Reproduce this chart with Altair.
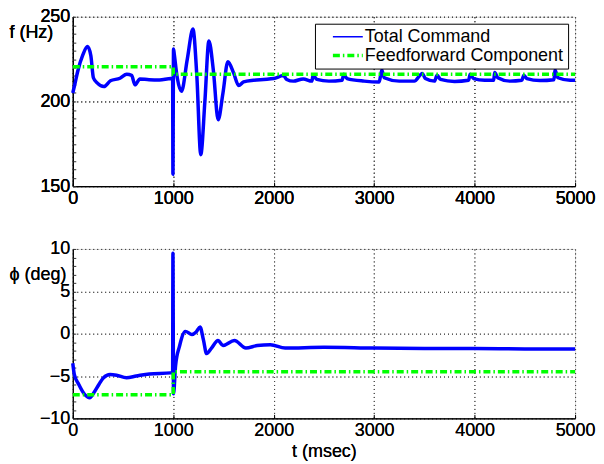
import altair as alt
import pandas as pd

# ---- data ----
t_f = [0, 20, 50, 100, 147, 180, 205, 245, 310, 375, 470, 537, 586, 619, 668, 760, 863, 977,
       994, 997, 1003, 1010, 1040, 1082, 1140, 1196, 1235, 1274, 1315, 1355, 1400, 1447, 1495,
       1544, 1600, 1651, 1700, 1800, 1900, 2000, 2098, 2130, 2196, 2294, 2380, 2392, 2430, 2550,
       2680, 2698, 2730, 2900, 3050, 3076, 3100, 3250, 3400, 3480, 3510, 3600, 3627, 3660, 3800,
       3940, 3956, 3990, 4100, 4190, 4200, 4230, 4350, 4470, 4490, 4520, 4650, 4790, 4800, 4830,
       4950, 5000]
f_total = [205, 210, 218, 227.5, 232.4, 227, 214, 210.8, 208.8, 212.2, 213.7, 216, 215.4, 209.8,
           213.3, 212.8, 212.7, 213.5,
           213, 157, 231, 228, 214, 206, 225, 242.7, 215, 168.6, 200, 235.7, 218, 189.2, 205,
           223.5, 217, 209.4, 211.5, 212.5, 213, 213.5, 215.3, 213, 212, 213.3, 212, 215.5, 213, 212,
           212.5, 216, 213.5, 212, 211.5, 218.6, 214, 212, 212, 216.5, 213.5, 212, 215.5, 213, 211.8,
           212.5, 216, 213.5, 212.5, 212.5, 217.1, 214, 212, 212.5, 215.5, 213.5, 212.3, 212.8, 218.5, 214,
           212.5, 212.5]

t_phi = [0, 15, 60, 120, 169, 208, 260, 306, 371, 436, 534, 632, 762, 974, 994, 997, 1003, 1023,
         1062, 1121, 1186, 1228, 1267, 1300, 1332, 1381, 1446, 1495, 1609, 1723, 1837, 1967, 2114,
         2500, 3000, 3500, 4000, 4500, 5000]
phi_total = [-3.5, -4.8, -6.0, -7.2, -7.57, -7.0, -6.0, -5.2, -4.82, -4.9, -5.2, -5.0, -4.75, -4.63,
             -4.6, 9.5, -7.1, -3.8, -1.5, 0.27, -0.1, 0.2, 0.78, -0.7, -2.35, -1.7, -0.82, -1.4, -0.82,
             -1.7, -1.4, -1.3, -1.7, -1.6, -1.7, -1.75, -1.75, -1.8, -1.8]

t_ff = [0, 1000, 1000, 5000]
f_ff = [220.5, 220.5, 216, 216]
phi_ff = [-7.2, -7.2, -4.5, -4.5]

series = ["Total Command", "Feedforward Component"]
x_ticks = [0, 1000, 2000, 3000, 4000, 5000]
f_ticks = [150, 200, 250]
phi_ticks = [-10, -5, 0, 5, 10]
f_minor = list(range(150, 251, 5))
phi_minor = list(range(-10, 11, 1))

FONT = "Liberation Sans"
FS = 18
BLUE = "#0000ff"
GREEN = "#00ff00"
DASHDOT = [7, 3, 1.5, 3]
W, H = 504, 170

top_tot = pd.DataFrame({"t": t_f, "v": f_total, "s": series[0], "i": range(len(t_f))})
top_ff = pd.DataFrame({"t": t_ff, "v": f_ff, "s": series[1], "i": range(len(t_ff))})
bot_tot = pd.DataFrame({"t": t_phi, "v": phi_total, "s": series[0], "i": range(len(t_phi))})
bot_ff = pd.DataFrame({"t": t_ff, "v": phi_ff, "s": series[1], "i": range(len(t_ff))})

grid_kw = dict(grid=True, gridDash=[1, 3], gridColor="#444", gridWidth=1,
               domainColor="black", domainWidth=1, ticks=False,
               labelFont=FONT, labelFontSize=FS, labelColor="black",
               titleFont=FONT, titleFontSize=FS, titleFontWeight="normal", titleColor="black")


def panel(tot, ff, ydom, yticks, yminor, ytitle, ytitle_y, xtitle, legend):
    xscale = alt.Scale(domain=[0, 5000], nice=False)
    yscale = alt.Scale(domain=ydom, nice=False, zero=False)
    if xtitle:
        x = alt.X("t:Q", scale=xscale,
                  axis=alt.Axis(values=x_ticks, format="d", orient="bottom", labelPadding=3,
                                labelFlush=False, title=xtitle, titlePadding=3, **grid_kw))
    else:
        x = alt.X("t:Q", scale=xscale, title=None,
                  axis=alt.Axis(values=x_ticks, format="d", orient="bottom", labelPadding=3,
                                labelFlush=False, **grid_kw))
    y = alt.Y("v:Q", scale=yscale,
              axis=alt.Axis(values=yticks, format="d", orient="left", title=ytitle, titleAngle=0,
                            titleAlign="left", titleBaseline="middle", titleX=-64,
                            titleY=ytitle_y, labelPadding=3, labelFlush=False, **grid_kw))
    # inward tick marks (MATLAB style)
    tick_layer = alt.Chart(tot).mark_line(opacity=0).encode(
        x=alt.X("t:Q", scale=xscale, title=None,
                axis=alt.Axis(values=x_ticks, orient="bottom", offset=-4, tickSize=4, ticks=True,
                              tickColor="black", labels=False, domain=False, grid=False)),
        y=alt.Y("v:Q", scale=yscale, title=None,
                axis=alt.Axis(values=yminor, orient="left", offset=-3, tickSize=3, ticks=True,
                              tickColor="#333", labels=False, domain=False, grid=False)),
    )
    blue_thick = alt.Chart(tot).mark_line(color=BLUE, strokeWidth=3.5, interpolate="monotone").encode(
        x=x, y=y, order="i:Q")
    if legend:
        leg = alt.Legend(title=None, orient="none", legendX=243, legendY=7,
                         labelFont=FONT, labelFontSize=FS, labelColor="black",
                         symbolSize=100, symbolType="M-3,0H3", symbolOffset=20, labelOffset=8,
                         padding=4, rowPadding=1, strokeColor="black",
                         fillColor="white", labelLimit=400)
        enc_kw = dict(
            color=alt.Color("s:N", scale=alt.Scale(domain=series, range=[BLUE, GREEN]), legend=leg, sort=series),
            strokeDash=alt.StrokeDash("s:N", scale=alt.Scale(domain=series, range=[[1, 0], DASHDOT]), legend=leg, sort=series),
            strokeWidth=alt.StrokeWidth("s:N", scale=alt.Scale(domain=series, range=[1.5, 3.5]), legend=leg, sort=series),
        )
        blue_thin = alt.Chart(tot).mark_line(interpolate="monotone").encode(x=x, y=y, order="i:Q", **enc_kw)
        green = alt.Chart(ff).mark_line().encode(x=x, y=y, order="i:Q", **enc_kw)
        return alt.layer(blue_thick, blue_thin, green, tick_layer).resolve_axis(x="independent", y="independent")
    green = alt.Chart(ff).mark_line(color=GREEN, strokeWidth=3.5, strokeDash=DASHDOT).encode(
        x=x, y=y, order="i:Q")
    return alt.layer(blue_thick, green, tick_layer).resolve_axis(x="independent", y="independent")


top = panel(top_tot, top_ff, [150, 250], f_ticks, f_minor, "f (Hz)", 16, None, True).properties(width=W, height=H)
bot = panel(bot_tot, bot_ff, [-10, 10], phi_ticks, phi_minor, "\u03d5 (deg)", 26, "t (msec)", False).properties(width=W, height=H)

chart = alt.vconcat(top, bot, spacing=31).properties(
    padding={"left": 0, "top": -2, "right": 0, "bottom": 0}
).configure_view(strokeWidth=0).configure(background="white")

chart.save("out.html", embed_options={"renderer": "svg", "actions": False})
